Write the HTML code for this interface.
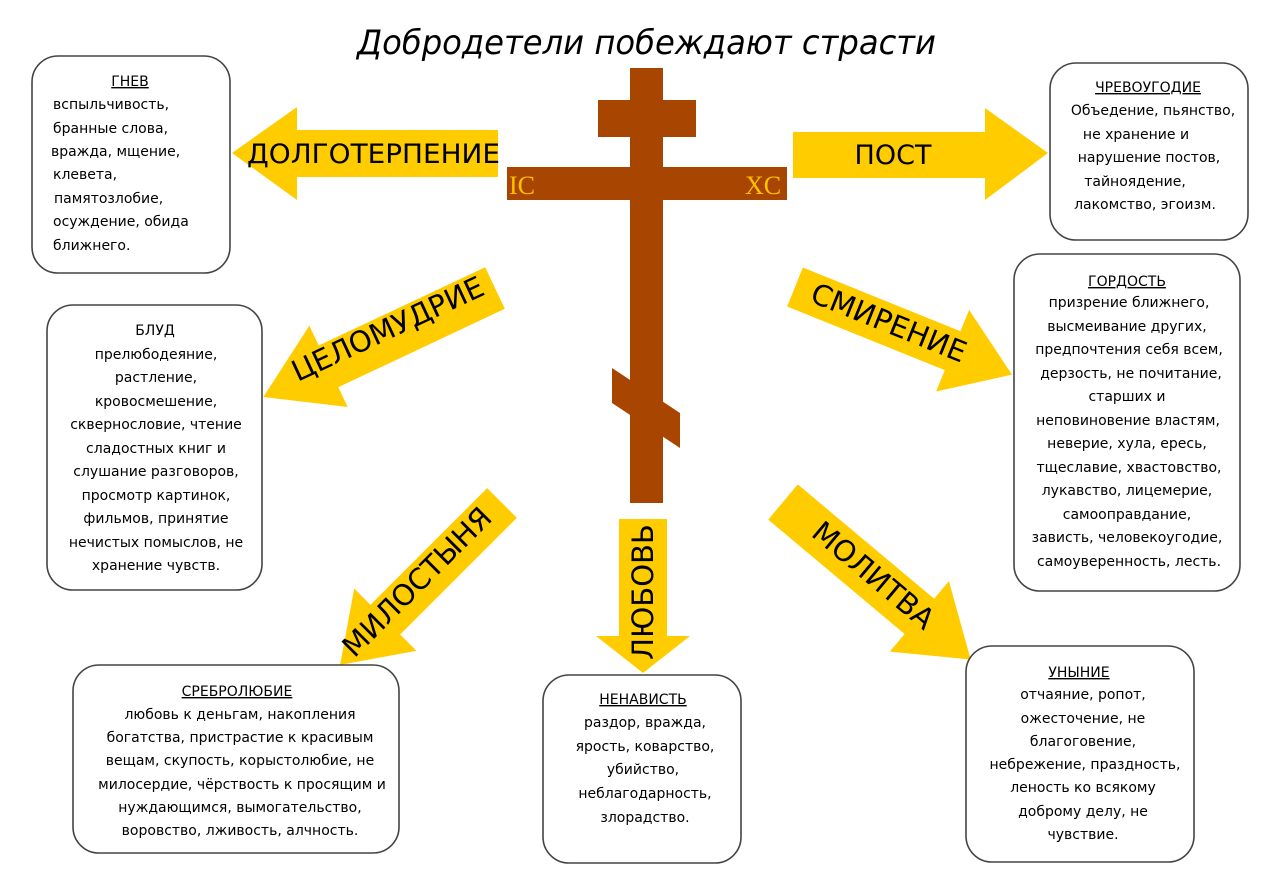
<!DOCTYPE html>
<html><head><meta charset="utf-8"><style>
html,body{margin:0;padding:0;background:#fff;}
svg{display:block;}
text{font-family:"DejaVu Sans","Liberation Sans",sans-serif;}
.b{fill:#fff;stroke:#444;stroke-width:1.6;}
.t{font-size:14px;fill:#000;}
.h{font-size:14px;fill:#000;text-decoration:underline;}
.a{fill:#ffcc00;}
.l{font-size:27px;fill:#000;}
.r{font-size:29px;fill:#000;}
</style></head><body>
<svg width="1278" height="894" viewBox="0 0 1278 894" xmlns="http://www.w3.org/2000/svg">
<rect width="1278" height="894" fill="#fff"/>
<text x="357" y="54" font-size="34" font-style="italic" textLength="579" lengthAdjust="spacingAndGlyphs">Добродетели побеждают страсти</text>

<g fill="#a84500">
<rect x="630" y="68" width="33" height="435"/>
<rect x="598" y="100" width="98" height="37"/>
<rect x="507" y="167" width="280" height="33"/>
<polygon points="612,368 680,413 680,448 612,403"/>
</g>
<text x="509" y="194" font-size="26" fill="#ffc000" style="font-family:'Liberation Serif',serif">IC</text>
<text x="745" y="194" font-size="26" fill="#ffc000" style="font-family:'Liberation Serif',serif">XC</text>

<polygon class="a" points="498,130 297,130 297,107 232,153 297,200 297,177 498,177"/>
<text class="l" x="247" y="163" textLength="253" lengthAdjust="spacingAndGlyphs">ДОЛГОТЕРПЕНИЕ</text>
<polygon class="a" points="793,132 985,132 985,108 1048,153 985,200 985,178 793,178"/>
<text class="l" x="893" y="164" text-anchor="middle">ПОСТ</text>

<polygon class="a" points="619,519 667,519 667,636 690,636 643,673 596,636 619,636"/>
<text class="r" transform="translate(653,592) rotate(-90)" text-anchor="middle">ЛЮБОВЬ</text>

<g transform="translate(495,288) rotate(154.8)">
<polygon class="a" points="0,-23 184,-23 184,-45 256,0 184,45 184,23 0,23"/>
</g>
<text class="r" transform="translate(392,338) rotate(-25)" text-anchor="middle">ЦЕЛОМУДРИЕ</text>

<g transform="translate(502,503) rotate(135)">
<polygon class="a" points="0,-21 165,-21 165,-44 229,0 165,44 165,21 0,21"/>
</g>
<text class="r" transform="translate(424,589) rotate(-45)" text-anchor="middle">МИЛОСТЫНЯ</text>

<g transform="translate(795,287) rotate(22)">
<polygon class="a" points="0,-21 170,-21 170,-44 234,0 170,44 170,21 0,21"/>
</g>
<text class="r" transform="translate(885,332) rotate(22)" text-anchor="middle">СМИРЕНИЕ</text>

<g transform="translate(783,502) rotate(40)">
<polygon class="a" points="0,-23 178,-23 178,-46 245,0 178,46 178,23 0,23"/>
</g>
<text class="r" transform="translate(867,583) rotate(40)" text-anchor="middle">МОЛИТВА</text>

<rect class="b" x="32" y="56" width="198" height="217" rx="26"/>
<text class="h" x="130" y="86" text-anchor="middle">ГНЕВ</text>
<g class="t">
<text x="53" y="109">вспыльчивость,</text>
<text x="53" y="133">бранные слова,</text>
<text x="51" y="156">вражда, мщение,</text>
<text x="53" y="179">клевета,</text>
<text x="54" y="203">памятозлобие,</text>
<text x="53" y="226">осуждение, обида</text>
<text x="53" y="250">ближнего.</text>
</g>

<rect class="b" x="1050" y="63" width="198" height="177" rx="26"/>
<text class="h" x="1148" y="92" text-anchor="middle">ЧРЕВОУГОДИЕ</text>
<g class="t" text-anchor="middle">
<text x="1153" y="115">Объедение, пьянство,</text>
<text x="1136" y="139">не хранение и</text>
<text x="1149" y="162">нарушение постов,</text>
<text x="1135" y="186">тайноядение,</text>
<text x="1145" y="209">лакомство, эгоизм.</text>
</g>

<rect class="b" x="47" y="305" width="215" height="285" rx="26"/>
<text class="t" x="155" y="335" text-anchor="middle">БЛУД</text>
<g class="t" text-anchor="middle">
<text x="156" y="359">прелюбодеяние,</text>
<text x="156" y="382">растление,</text>
<text x="156" y="406">кровосмешение,</text>
<text x="156" y="429">сквернословие, чтение</text>
<text x="156" y="453">сладостных книг и</text>
<text x="156" y="476">слушание разговоров,</text>
<text x="156" y="500">просмотр картинок,</text>
<text x="156" y="523">фильмов, принятие</text>
<text x="156" y="547">нечистых помыслов, не</text>
<text x="156" y="570">хранение чувств.</text>
</g>

<rect class="b" x="1014" y="254" width="226" height="337" rx="26"/>
<text class="h" x="1127" y="286" text-anchor="middle">ГОРДОСТЬ</text>
<g class="t" text-anchor="middle">
<text x="1129" y="307">призрение ближнего,</text>
<text x="1127" y="331">высмеивание других,</text>
<text x="1129" y="354">предпочтения себя всем,</text>
<text x="1131" y="378">дерзость, не почитание,</text>
<text x="1127" y="401">старших и</text>
<text x="1128" y="425">неповиновение властям,</text>
<text x="1127" y="448">неверие, хула, ересь,</text>
<text x="1129" y="472">тщеславие, хвастовство,</text>
<text x="1127" y="495">лукавство, лицемерие,</text>
<text x="1127" y="519">самооправдание,</text>
<text x="1127" y="542">зависть, человекоугодие,</text>
<text x="1129" y="566">самоуверенность, лесть.</text>
</g>

<rect class="b" x="73" y="665" width="326" height="188" rx="26"/>
<text class="h" x="237" y="696" text-anchor="middle">СРЕБРОЛЮБИЕ</text>
<g class="t" text-anchor="middle">
<text x="240" y="719">любовь к деньгам, накопления</text>
<text x="240" y="742">богатства, пристрастие к красивым</text>
<text x="240" y="765">вещам, скупость, корыстолюбие, не</text>
<text x="242" y="789">милосердие, чёрствость к просящим и</text>
<text x="240" y="812">нуждающимся, вымогательство,</text>
<text x="240" y="835">воровство, лживость, алчность.</text>
</g>

<rect class="b" x="543" y="675" width="198" height="188" rx="26"/>
<text class="h" x="643" y="704" text-anchor="middle">НЕНАВИСТЬ</text>
<g class="t" text-anchor="middle">
<text x="645" y="727">раздор, вражда,</text>
<text x="645" y="751">ярость, коварство,</text>
<text x="643" y="774">убийство,</text>
<text x="645" y="798">неблагодарность,</text>
<text x="645" y="822">злорадство.</text>
</g>

<rect class="b" x="966" y="646" width="228" height="216" rx="26"/>
<text class="h" x="1079" y="677" text-anchor="middle">УНЫНИЕ</text>
<g class="t" text-anchor="middle">
<text x="1083" y="699">отчаяние, ропот,</text>
<text x="1083" y="723">ожесточение, не</text>
<text x="1083" y="746">благоговение,</text>
<text x="1085" y="769">небрежение, праздность,</text>
<text x="1083" y="792">леность ко всякому</text>
<text x="1083" y="816">доброму делу, не</text>
<text x="1083" y="839">чувствие.</text>
</g>
</svg>
</body></html>
